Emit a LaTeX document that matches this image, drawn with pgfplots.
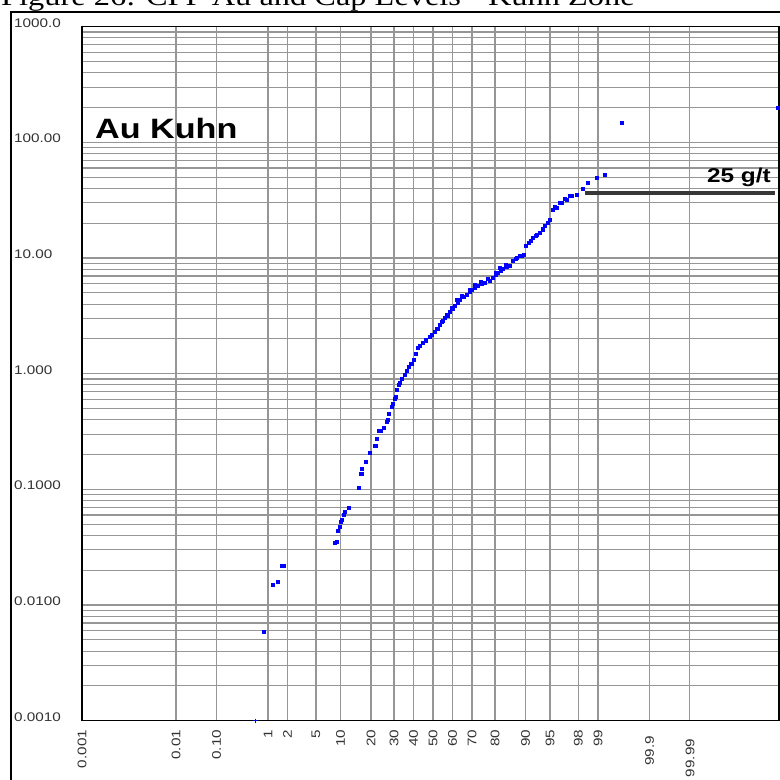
\documentclass[border=0pt]{standalone}
\usepackage{pgfplots}
\pgfplotsset{compat=1.18}
\usepackage{fontspec}
\setmainfont{Liberation Sans}
\newfontfamily\tickfont{Liberation Sans}[FakeStretch=1.22]
\newfontfamily\titlefont{Liberation Serif}[FakeStretch=1.2]
\definecolor{gridgray}{RGB}{150,150,150}
\definecolor{capgray}{RGB}{55,55,55}
\definecolor{ptblue}{RGB}{0,0,255}
\begin{document}
\begin{tikzpicture}[x=1pt,y=1pt]
\useasboundingbox (0,0) rectangle (780,780);
\clip (0,0) rectangle (780,780);
\node[anchor=base west, inner sep=0pt, font=\titlefont\fontsize{27}{27}\selectfont] at (1,774) {Figure 26: CPP Au and Cap Levels - Kuhn Zone};
\draw[line width=1.5pt] (11,0) -- (11,768) -- (781,768);
\begin{axis}[
  at={(82pt,59.3pt)}, anchor=south west,
  width=697pt, height=694pt, scale only axis,
  ymode=log, ymin=0.001, ymax=1000,
  xmin=-4.875, xmax=4.806,
  ytick={0.001,0.01,0.1,1,10,100,1000},
  yticklabels={0.0010,0.0100,0.1000,1.000,10.00,100.00,1000.0},
  minor ytick={2e-3,3e-3,4e-3,5e-3,6e-3,7e-3,8e-3,9e-3,
               2e-2,3e-2,4e-2,5e-2,6e-2,7e-2,8e-2,9e-2,
               2e-1,3e-1,4e-1,5e-1,6e-1,7e-1,8e-1,9e-1,
               2,3,4,5,6,7,8,9,20,30,40,50,60,70,80,90,
               200,300,400,500,600,700,800,900},
  xtick={-4.875,-3.569,-3.007,-2.292,-2.02,-1.625,-1.285,-0.861,-0.542,-0.271,0,0.271,0.542,0.861,1.285,1.625,2.02,2.292,3.007,3.569},
  xticklabels={0.001,0.01,0.10,1,2,5,10,20,30,40,50,60,70,80,90,95,98,99,{99.9\hspace*{6pt}},{99.99\hspace*{9pt}}},
  xmajorgrids, ymajorgrids, yminorgrids,
  grid style={gridgray, line width=1.1pt},
  minor grid style={gridgray, line width=1.1pt},
  major tick length=0pt, minor tick length=0pt,
  axis line style={black, line width=1.5pt},
  xticklabel style={rotate=90, anchor=east, inner sep=0pt, font=\tickfont\fontsize{12.5}{12.5}\selectfont, text=black!80},
  xticklabel shift=9pt,
  yticklabel style={anchor=west, inner sep=0pt, xshift=-68pt, yshift=4pt, font=\tickfont\fontsize{12.5}{12.5}\selectfont, text=black!80},
  log basis y=10,
]
\addplot[capgray, line width=4.5pt, no marks] coordinates {(2.111,36.5) (4.75,36.5)};
\addplot[only marks, mark=+, mark size=2.2pt, ptblue, mark options={line width=1pt}] coordinates {(-2.472,0.001)};
\addplot[only marks, mark=square*, mark size=1.6pt, ptblue, mark options={draw=ptblue, fill=ptblue}] coordinates {
(-2.347,0.00587)
(-2.222,0.01495)
(-2.153,0.01587)
(-2.097,0.0218) (-2.069,0.0218)
(-1.361,0.0345) (-1.333,0.0352)
(-1.319,0.0438)
(-1.292,0.0474)
(-1.278,0.0524)
(-1.264,0.0545)
(-1.236,0.0602)
(-1.222,0.0639)
(-1.167,0.0692)
(-1.028,0.103)
(-1.0,0.136) (-0.986,0.136)
(-0.986,0.150)
(-0.931,0.173)
(-0.875,0.207)
(-0.806,0.238) (-0.792,0.238)
(-0.778,0.273)
(-0.750,0.320)
(-0.722,0.320)
(-0.681,0.340)
(-0.639,0.383)
(-0.625,0.399)
(-0.611,0.449)
(-0.569,0.516)
(-0.556,0.548)
(-0.528,0.606)
(-0.514,0.630)
(-0.500,0.724)
(-0.472,0.800)
(-0.458,0.833)
(-0.431,0.90)
(-0.389,0.976)
(-0.361,1.06)
(-0.333,1.145)
(-0.306,1.216)
(-0.292,1.22)
(-0.264,1.316)
(-0.236,1.50)
(-0.208,1.671)
(-0.181,1.739)
(-0.139,1.846)
(-0.097,1.95)
(-0.042,2.088)
(-0.014,2.164)
(0.028,2.307)
(0.056,2.44)
(0.069,2.45)
(0.097,2.641)
(0.125,2.80)
(0.132,2.85)
(0.167,3.036)
(0.194,3.22)
(0.201,3.2)
(0.236,3.421)
(0.264,3.70)
(0.271,3.65)
(0.306,3.898)
(0.333,4.34)
(0.340,4.15)
(0.375,4.391)
(0.403,4.70)
(0.424,4.6)
(0.472,4.851)
(0.507,5.1)
(0.514,5.30)
(0.542,5.358)
(0.583,5.55)
(0.583,5.85)
(0.625,5.801)
(0.667,6.22)
(0.674,6.0)
(0.722,6.161)
(0.764,6.60)
(0.792,6.411)
(0.833,6.805)
(0.868,7.15)
(0.875,7.43)
(0.903,7.516)
(0.931,8.21)
(0.938,7.8)
(0.972,8.142)
(1.014,8.72)
(1.021,8.4)
(1.069,8.641)
(1.111,9.544)
(1.153,9.93)
(1.160,10.0)
(1.208,10.54)
(1.236,10.54)
(1.264,10.75)
(1.292,12.87)
(1.333,13.66)
(1.361,14.2)
(1.389,15.08)
(1.431,15.7)
(1.438,15.9)
(1.486,16.66)
(1.521,17.9)
(1.528,17.7)
(1.556,19.15)
(1.590,20.3)
(1.597,20.3)
(1.625,21.58)
(1.667,26.35)
(1.694,27.97)
(1.722,27.4)
(1.764,30.3)
(1.792,30.28)
(1.833,32.8)
(1.861,32.15)
(1.903,34.8)
(1.931,34.8)
(2.0,35.5)
(2.083,40.0)
(2.153,45.1)
(2.278,49.8)
(2.389,52.9)
(2.625,147.5)
(4.792,198)
};
\end{axis}
\node[anchor=base west, inner sep=0pt, font=\tickfont\bfseries\fontsize{28}{28}\selectfont] at (95,641) {Au Kuhn};
\node[anchor=base east, inner sep=0pt, font=\tickfont\bfseries\fontsize{20}{20}\selectfont] at (771,597) {25 g/t};
\end{tikzpicture}
\end{document}
